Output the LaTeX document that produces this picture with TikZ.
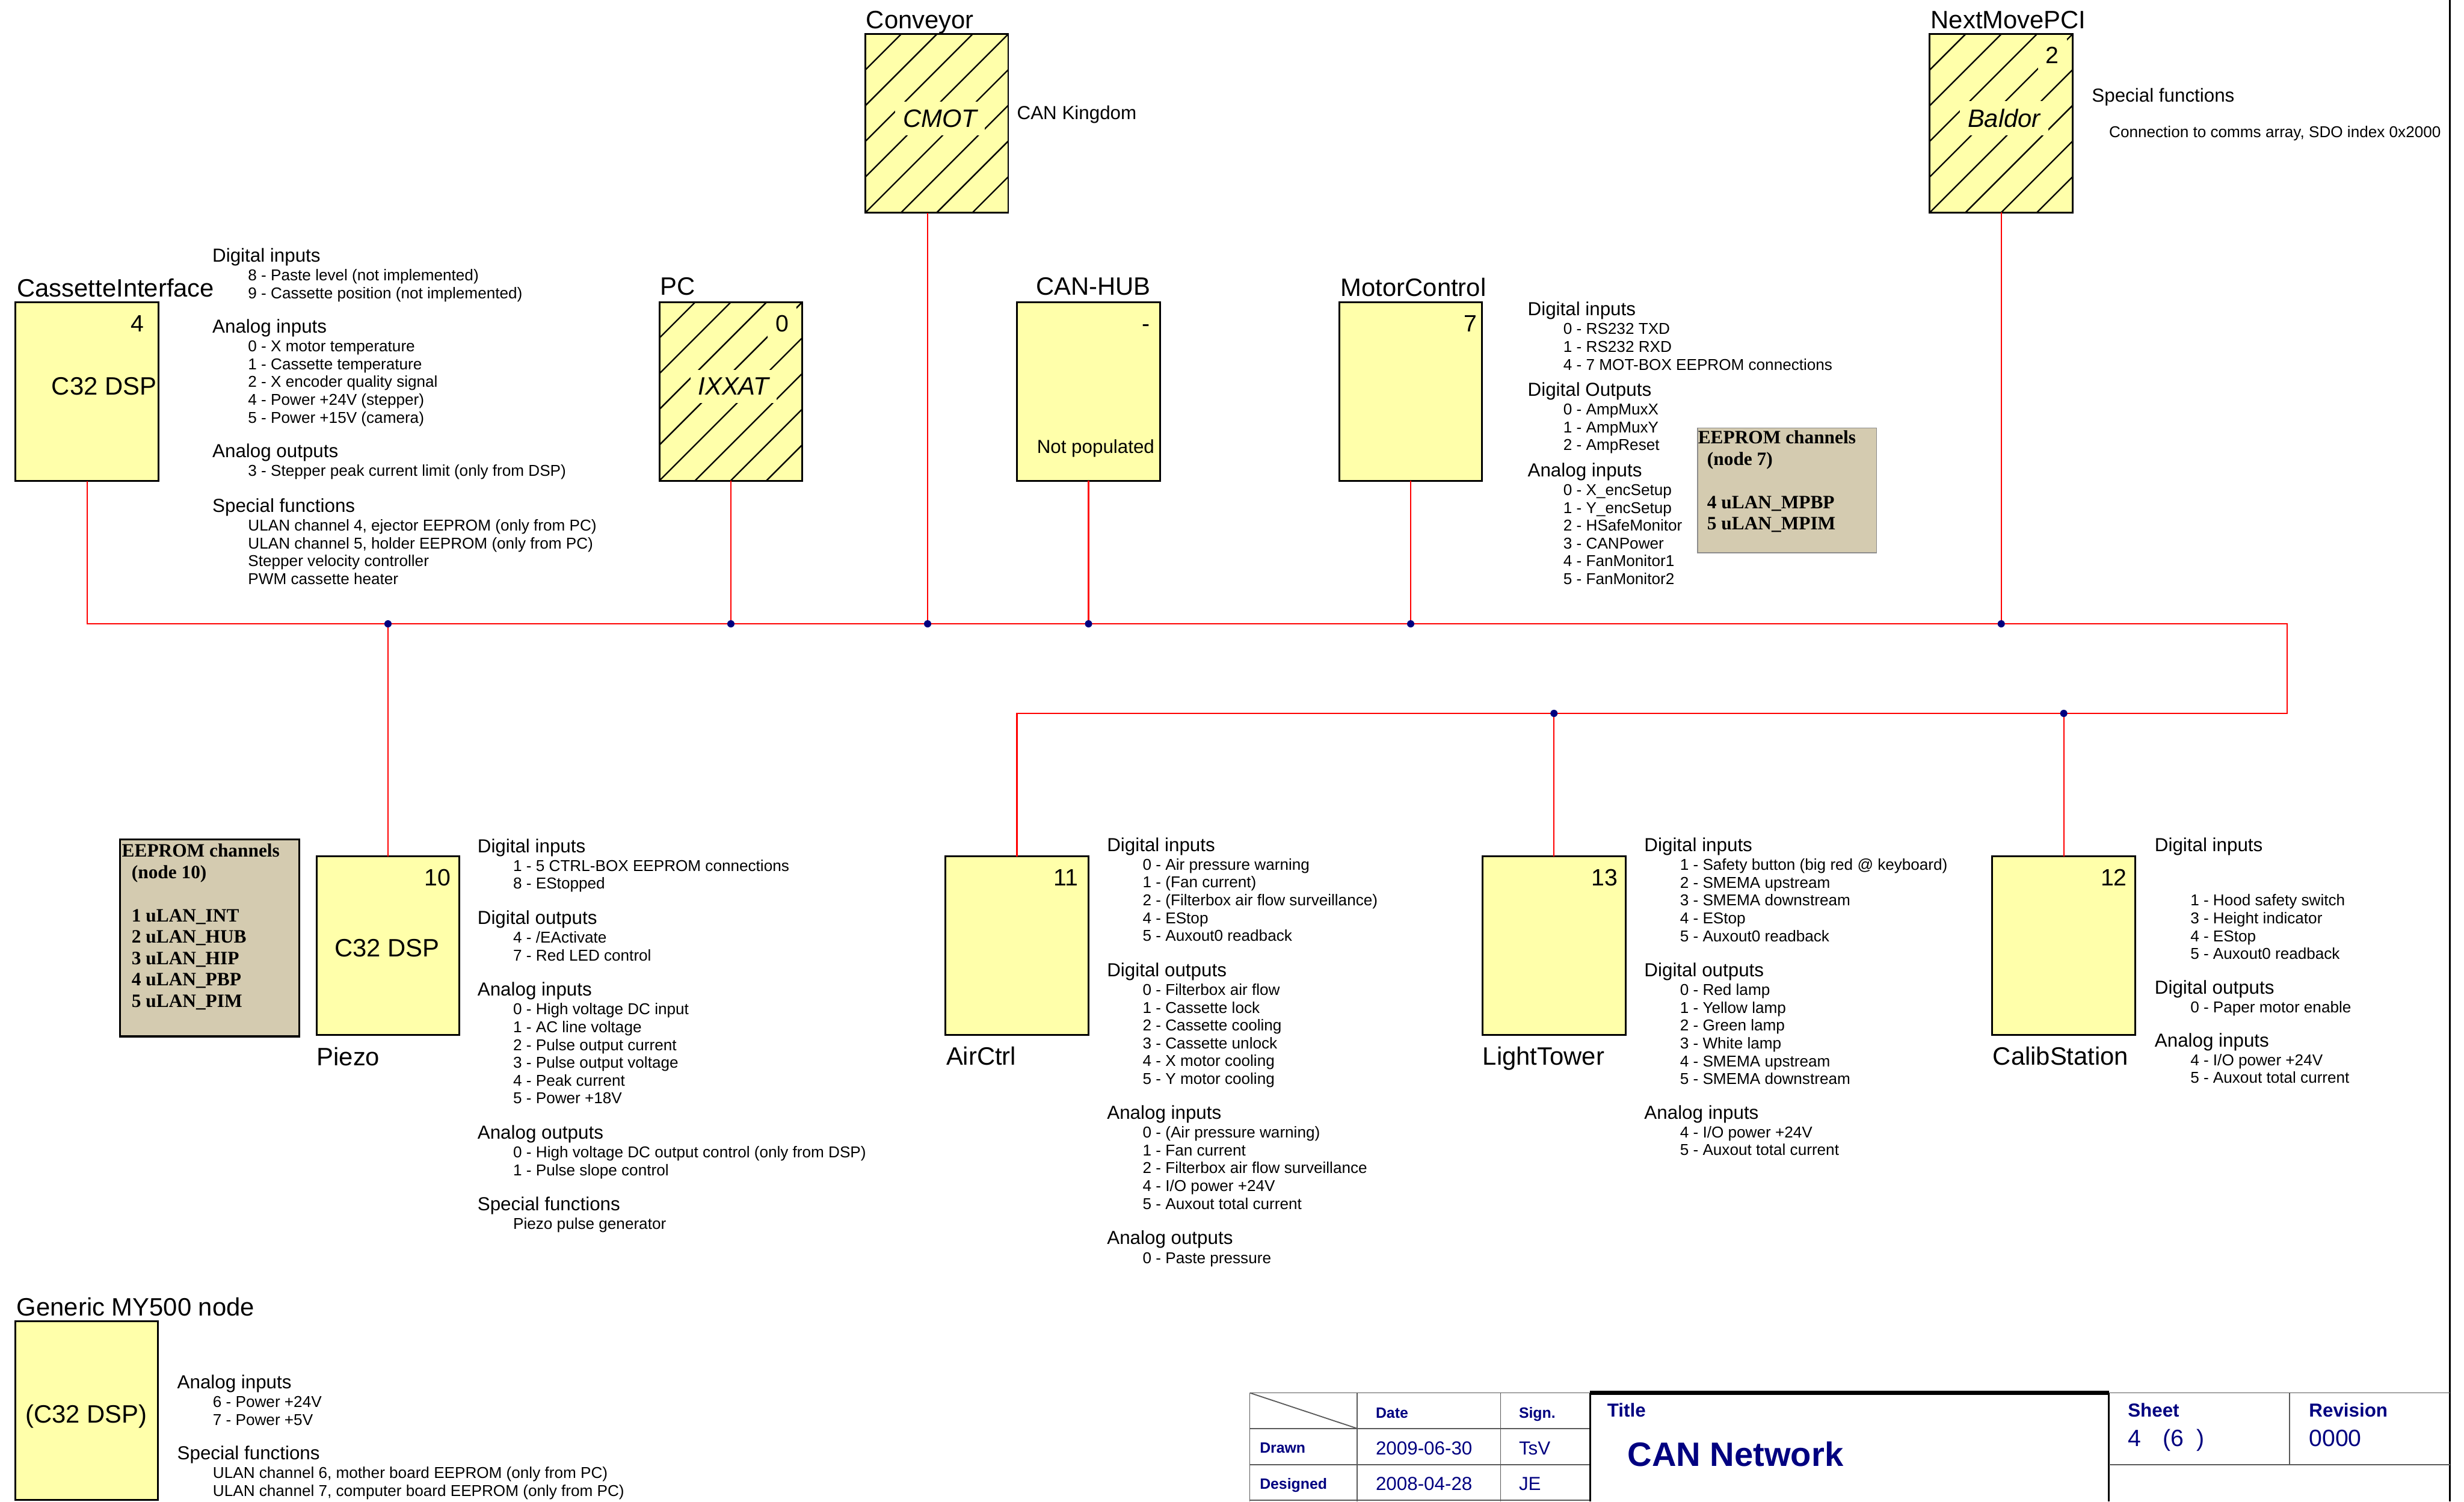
\documentclass[tikz,border=0pt]{standalone}
\usepackage{fontspec}
\setmainfont{Liberation Sans}
\newfontfamily\tbold{Liberation Serif}
\definecolor{boxyellow}{RGB}{255,255,170}
\definecolor{eeprom}{RGB}{212,203,176}
\definecolor{navy}{RGB}{0,0,128}
\definecolor{busred}{RGB}{255,0,0}
\newcommand\blocksec[6][0]{%
  \node[hdr] (#2) at (#3,#4) {#5};
  \foreach \xx [count=\ii] in {#6} {\node[itm] (#2-\ii) at (#3+22.7,#4+11.9+#1*11.35+\ii*11.35-11.35) {\xx};}%
}
\newcommand\hatchbox[4]{%
  \begin{scope}
    \clip (#1,#2) rectangle (#3,#4);
    \foreach \k in {-6,...,5} \draw[hatchline] (#3-22.7*\k-150,#2+150) -- (#3-22.7*\k+150,#2-150);
  \end{scope}%
}
\begin{document}
\begin{tikzpicture}[x=1pt,y=-1pt,
  box/.style={draw=black,line width=1.1pt,fill=boxyellow,minimum width=91pt,minimum height=113.7pt,anchor=north west,inner sep=0pt,outer sep=0pt},
  bus/.style={draw=busred,line width=0.9pt},
  jdot/.style={circle,fill=navy,inner sep=0pt,minimum size=4.6pt},
  lbl/.style={font=\fontsize{16}{19}\selectfont,inner sep=0pt,anchor=base west},
  num/.style={font=\fontsize{15}{18}\selectfont,inner sep=0pt,anchor=base east},
  gap/.style={fill=boxyellow,inner xsep=5pt,inner ysep=5pt},
  mid/.style={font=\fontsize{16}{19}\selectfont,inner sep=0pt},
  hdr/.style={font=\fontsize{12}{14}\selectfont,inner sep=0pt,anchor=base west},
  itm/.style={font=\fontsize{10}{12}\selectfont,inner sep=0pt,anchor=base west},
  ee/.style={font=\tbold\bfseries\fontsize{12}{14}\selectfont,inner sep=0pt,anchor=base west},
  tbs/.style={text=navy,inner sep=0pt,anchor=base west,font=\bfseries\fontsize{9.5}{11}\selectfont},
  tbm/.style={text=navy,inner sep=0pt,anchor=base west,font=\bfseries\fontsize{12}{14}\selectfont},
  tbv/.style={text=navy,inner sep=0pt,anchor=base west,font=\fontsize{12}{14}\selectfont},
  hatchline/.style={line width=0.9pt,black},
  tbline/.style={draw=black!65,line width=0.7pt},
  tbthick/.style={draw=black,line width=1.1pt}]

\fill[white] (0,0) rectangle (1568,955.5);
\useasboundingbox (0,0) rectangle (1568,955.5);

% ---------------- boxes ----------------
\node[box] (cas) at (9.9,192.5) {};
\node[box] (conv) at (550.6,21.7) {};
\node[box] (pc) at (419.6,192.2) {};
\node[box] (hub) at (647.2,192.2) {};
\node[box] (mc) at (852.2,192.3) {};
\node[box] (nm) at (1228,21.6) {};
\node[box] (piezo) at (201.4,545) {};
\node[box] (air) at (601.7,545) {};
\node[box] (light) at (943.4,545) {};
\node[box] (calib) at (1267.8,545) {};
\node[box,minimum height=113.6pt] (gen) at (9.6,840.9) {};

\hatchbox{550.6}{21.7}{641.6}{135.4}
\hatchbox{419.6}{192.2}{510.6}{305.9}
\hatchbox{1228}{21.6}{1319}{135.3}
\draw[line width=1.1pt] (conv.north west) rectangle (conv.south east);
\draw[line width=1.1pt] (pc.north west) rectangle (pc.south east);
\draw[line width=1.1pt] (nm.north west) rectangle (nm.south east);

% ---------------- bus ----------------
\coordinate (busR) at (1455.5,397);
\coordinate (busR2) at (1455.5,454);
\coordinate (jconv) at (590.3,397);
\draw[bus] (cas.south) |- (busR) -- (busR2) -| (air.north);
\draw[bus] (pc.south) -- (pc.south |- busR);
\draw[bus] (jconv) -- (jconv |- conv.south);
\draw[bus] (hub.south) -- (hub.south |- busR);
\draw[bus] (mc.south) -- (mc.south |- busR);
\draw[bus] (nm.south) -- (nm.south |- busR);
\draw[bus] (piezo.north |- busR) -- (piezo.north);
\draw[bus] (light.north |- busR2) -- (light.north);
\draw[bus] (calib.north |- busR2) -- (calib.north);
\node[jdot] (d1) at (piezo.north |- busR) {};
\node[jdot] (d2) at (pc.south |- busR) {};
\node[jdot] (d3) at (jconv) {};
\node[jdot] (d4) at (hub.south |- busR) {};
\node[jdot] (d5) at (mc.south |- busR) {};
\node[jdot] (d6) at (nm.south |- busR) {};
\node[jdot] (d7) at (light.north |- busR2) {};
\node[jdot] (d8) at (calib.north |- busR2) {};

% ---------------- labels ----------------
\node[lbl] (lcas) at (10.7,188.8) {CassetteInterface};
\node[lbl] (lpc) at (420,187.7) {PC};
\node[lbl] (lhub) at (659,187.7) {CAN-HUB};
\node[lbl] (lmc) at (853,188.4) {MotorControl};
\node[lbl] (lconv) at (551,18.2) {Conveyor};
\node[lbl] (lnm) at (1228.5,18.3) {NextMovePCI};
\node[lbl] (lpiezo) at (201.4,678) {Piezo};
\node[lbl] (lair) at (602,677.6) {AirCtrl};
\node[lbl] (llight) at (943.4,677.6) {LightTower};
\node[lbl] (lcalib) at (1268,677.6) {CalibStation};
\node[lbl] (lgen) at (10.5,837.3) {Generic MY500 node};

\node[num] (ncas) at (91.7,211.1) {4};
\node[num,gap] (npc) at (507,211) {0};
\node[num] (nhub) at (732,211) {-};
\node[num] (nmc) at (940,211.2) {7};
\node[num,gap] (nnm) at (1315.4,40.4) {2};
\node[num] (npiezo) at (287,563.7) {10};
\node[num] (nair) at (686.2,563.7) {11};
\node[num] (nlight) at (1029.6,563.7) {13};
\node[num] (ncalib) at (1353.7,563.7) {12};

\node[mid,anchor=base east] (mcas) at (99.8,251.2) {C32 DSP};
\node[mid,anchor=base] (mpiezo) at (246.2,609) {C32 DSP};
\node[mid,anchor=base] (mgen) at (55,905.4) {(C32 DSP)};
\node[mid,gap,anchor=base,font=\itshape\fontsize{16}{19}\selectfont] (mconv) at (598.2,81) {CMOT};
\node[mid,gap,anchor=base,font=\itshape\fontsize{16}{19}\selectfont] (mpc) at (466.8,251.3) {IXXAT};
\node[mid,gap,anchor=base,font=\itshape\fontsize{16}{19}\selectfont] (mnm) at (1275.3,80.8) {Baldor};
\node[inner sep=0pt,anchor=base east,font=\fontsize{12}{14}\selectfont] (mhub) at (734.8,288.5) {Not populated};
\node[hdr] (ckd) at (647,76) {CAN Kingdom};

% ---------------- text blocks ----------------
\blocksec{casDI}{135}{166.7}{Digital inputs}{8 - Paste level (not implemented),9 - Cassette position (not implemented)}
\blocksec{casAI}{135}{211.9}{Analog inputs}{0 - X motor temperature,1 - Cassette temperature,2 - X encoder quality signal,4 - Power +24V (stepper),5 - Power +15V (camera)}
\blocksec{casAO}{135}{291.1}{Analog outputs}{3 - Stepper peak current limit (only from DSP)}
\blocksec{casSF}{135}{325.9}{Special functions}{{ULAN channel 4, ejector EEPROM (only from PC)},{ULAN channel 5, holder EEPROM (only from PC)},Stepper velocity controller,PWM cassette heater}

\blocksec{mcDI}{972}{200.9}{Digital inputs}{0 - RS232 TXD,1 - RS232 RXD,4 - 7 MOT-BOX EEPROM connections}
\blocksec{mcDO}{972}{252}{Digital Outputs}{0 - AmpMuxX,1 - AmpMuxY,2 - AmpReset}
\blocksec{mcAI}{972}{303.3}{Analog inputs}{0 - X\_encSetup,1 - Y\_encSetup,2 - HSafeMonitor,3 - CANPower,4 - FanMonitor1,5 - FanMonitor2}

\node[hdr] (nmSF) at (1331,64.7) {Special functions};
\node[itm] (nmSF-1) at (1342,87.6) {Connection to comms array, SDO index 0x2000};

\blocksec{pzDI}{303.7}{542.5}{Digital inputs}{1 - 5 CTRL-BOX EEPROM connections,8 - EStopped}
\blocksec{pzDO}{303.7}{588.3}{Digital outputs}{4 - /EActivate,7 - Red LED control}
\blocksec{pzAI}{303.7}{633.8}{Analog inputs}{0 - High voltage DC input,1 - AC line voltage,2 - Pulse output current,3 - Pulse output voltage,4 - Peak current,5 - Power +18V}
\blocksec{pzAO}{303.7}{724.8}{Analog outputs}{0 - High voltage DC output control (only from DSP),1 - Pulse slope control}
\blocksec{pzSF}{303.7}{770.3}{Special functions}{Piezo pulse generator}

\blocksec{acDI}{704.3}{541.7}{Digital inputs}{0 - Air pressure warning,1 - (Fan current),2 - (Filterbox air flow surveillance),4 - EStop,5 - Auxout0 readback}
\blocksec{acDO}{704.3}{621.4}{Digital outputs}{0 - Filterbox air flow,1 - Cassette lock,2 - Cassette cooling,3 - Cassette unlock,4 - X motor cooling,5 - Y motor cooling}
\blocksec{acAI}{704.3}{712.2}{Analog inputs}{0 - (Air pressure warning),1 - Fan current,2 - Filterbox air flow surveillance,4 - I/O power +24V,5 - Auxout total current}
\blocksec{acAO}{704.3}{792}{Analog outputs}{0 - Paste pressure}

\blocksec{ltDI}{1046.2}{541.8}{Digital inputs}{1 - Safety button (big red @ keyboard),2 - SMEMA upstream,3 - SMEMA downstream,4 - EStop,5 - Auxout0 readback}
\blocksec{ltDO}{1046.2}{621.5}{Digital outputs}{0 - Red lamp,1 - Yellow lamp,2 - Green lamp,3 - White lamp,4 - SMEMA upstream,5 - SMEMA downstream}
\blocksec{ltAI}{1046.2}{712.1}{Analog inputs}{4 - I/O power +24V,5 - Auxout total current}

\blocksec[2]{csDI}{1371}{541.8}{Digital inputs}{1 - Hood safety switch,3 - Height indicator,4 - EStop,5 - Auxout0 readback}
\blocksec{csDO}{1371}{632.4}{Digital outputs}{0 - Paper motor enable}
\blocksec{csAI}{1371}{666.1}{Analog inputs}{4 - I/O power +24V,5 - Auxout total current}

\blocksec{gnAI}{112.6}{883.8}{Analog inputs}{6 - Power +24V,7 - Power +5V}
\blocksec{gnSF}{112.6}{928.9}{Special functions}{{ULAN channel 6, mother board EEPROM (only from PC)},{ULAN channel 7, computer board EEPROM (only from PC)}}

% ---------------- EEPROM boxes ----------------
\node[draw=black!45,line width=0.6pt,fill=eeprom,anchor=north west,inner sep=0pt,minimum width=113.8pt,minimum height=79.6pt] (ee7) at (1080,272) {};
\node[ee] (ee7a) at (1080.4,282.5) {EEPROM channels};
\node[ee] (ee7b) at (1086.2,296.2) {(node 7)};
\node[ee] (ee7c) at (1086.2,323.5) {4 uLAN\_MPBP};
\node[ee] (ee7d) at (1086.2,337.2) {5 uLAN\_MPIM};

\node[draw=black,line width=1.2pt,fill=eeprom,anchor=north west,inner sep=0pt,minimum width=114pt,minimum height=125.5pt] (ee10) at (75.8,533.5) {};
\node[ee] (ee10a) at (77.4,545.2) {EEPROM channels};
\node[ee] (ee10b) at (83.6,559.1) {(node 10)};
\node[ee] (ee10c) at (83.6,586.6) {1 uLAN\_INT};
\node[ee] (ee10d) at (83.6,600.1) {2 uLAN\_HUB};
\node[ee] (ee10e) at (83.6,613.7) {3 uLAN\_HIP};
\node[ee] (ee10f) at (83.6,627.3) {4 uLAN\_PBP};
\node[ee] (ee10g) at (83.6,640.9) {5 uLAN\_PIM};

% ---------------- frame and title block ----------------
\draw[tbthick] (1559,0) -- (1559,955.5);
\draw[tbline] (795.3,886.4) -- (1011.8,886.4);
\draw[tbline] (795.3,909.1) -- (1011.8,909.1);
\draw[tbline] (795.3,932) -- (1011.8,932);
\draw[tbline] (795.3,954.7) -- (1011.8,954.7);
\draw[tbline] (795.3,886.4) -- (795.3,955.5);
\draw[tbline] (863.7,886.4) -- (863.7,955.5);
\draw[tbline] (954.9,886.4) -- (954.9,955.5);
\draw[tbline] (795.3,886.4) -- (863.7,909.1);
\draw[tbthick] (1011.8,886.4) -- (1011.8,955.5);
\draw[tbthick] (1342,886.4) -- (1342,955.5);
\draw[draw=black,line width=2.6pt] (1011.8,886.4) -- (1342,886.4);
\draw[tbline] (1342,886.4) -- (1559,886.4);
\draw[tbline] (1457,886.4) -- (1457,932);
\draw[tbline] (1342,932) -- (1559,932);

\node[tbs] (tdate) at (875.3,902.3) {Date};
\node[tbs] (tsign) at (966.4,902.3) {Sign.};
\node[tbs] (tdrawn) at (801.5,924.8) {Drawn};
\node[tbs] (tdes) at (801.5,947.7) {Designed};
\node[tbv] (tdate1) at (875.3,925.8) {2009-06-30};
\node[tbv] (tsign1) at (966.4,925.8) {TsV};
\node[tbv] (tdate2) at (875.3,948.5) {2008-04-28};
\node[tbv] (tsign2) at (966.4,948.5) {JE};
\node[tbm] (ttitle) at (1022.6,901.7) {Title};
\node[tbm,font=\bfseries\fontsize{21.5}{25}\selectfont] (tcan) at (1035.5,933) {CAN Network};
\node[tbm] (tsheet) at (1353.9,901.6) {Sheet};
\node[tbm] (trev) at (1469.2,901.6) {Revision};
\node[tbv,font=\fontsize{15}{18}\selectfont] (tsheetv) at (1353.9,920.3) {4\hspace{14pt}(6\hspace{8pt})};
\node[tbv,font=\fontsize{15}{18}\selectfont] (trevv) at (1469.2,920.3) {0000};
\end{tikzpicture}
\end{document}
